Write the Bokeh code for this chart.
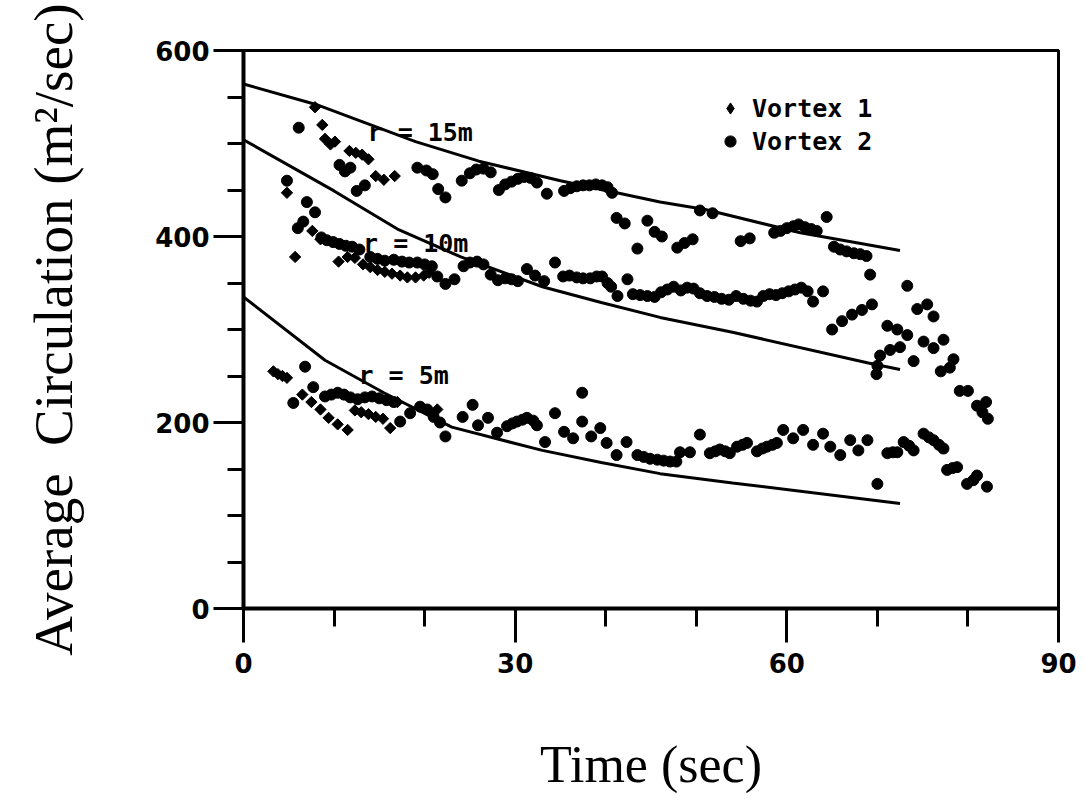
import math
from bokeh.plotting import figure
from bokeh.models import FixedTicker, Legend, LegendItem, Label, ColumnDataSource
from bokeh.embed import file_html
from bokeh.resources import INLINE

# ---------------- model curves (r = 15 m, 10 m, 5 m) ----------------
fit15_t = [0, 8, 19, 26, 35, 46, 51, 61.5, 72.5]
fit15_v = [564, 542, 502, 481, 460, 437, 429, 404, 385]
fit10_t = [0, 10, 17, 24, 33, 39.5, 46, 54, 69, 72.5]
fit10_v = [504, 449, 408, 378, 346, 329, 313, 297, 264, 257]
fit5_t = [0, 9, 15.5, 23, 33, 39.5, 46, 54, 72.5]
fit5_v = [335, 267, 232, 195, 170, 157, 145, 135, 113]

# ---------------- Vortex 1 (diamonds) ----------------
v1_r15_t = [7.9, 8.7, 9.0, 9.6, 10.1, 11.7, 12.4, 13.1, 13.8, 14.6, 15.5, 16.7]
v1_r15_v = [539, 520, 505, 499, 502, 492, 490, 488, 483, 465, 461, 465]
v1_r10_t = [4.8, 5.7, 7.6, 8.5, 10.5, 11.5, 12.3, 13.2, 14.0, 14.8, 15.6, 16.4,
            17.3, 18.1, 19.0, 19.9, 20.5]
v1_r10_v = [447, 378, 406, 397, 373, 378, 377, 370, 367, 364, 362, 360,
            358, 356, 356, 358, 361]
v1_r5_t = [3.3, 3.8, 4.3, 4.8, 6.5, 7.5, 8.5, 9.4, 10.4, 11.5, 12.3, 13.0,
           13.8, 14.6, 15.4, 16.2, 17.0, 21.4]
v1_r5_v = [255, 252, 250, 248, 230, 222, 214, 205, 198, 192, 213, 211,
           209, 206, 204, 194, 222, 214]

# ---------------- Vortex 2 (circles) ----------------
v2_r15_t = [6.1, 10.6, 11.2, 11.8, 12.5, 13.4, 19.2, 20.2, 20.9, 21.5, 22.3,
            24.1, 25.0, 25.7, 26.5, 27.3, 28.2, 28.9, 29.6, 30.3, 31.0, 31.7,
            32.4, 33.5, 35.4, 36.1, 36.8, 37.5, 38.2, 38.9, 39.6, 40.2, 40.7,
            41.2, 42.1, 43.5, 44.6, 45.4, 46.2, 47.9, 48.7, 49.6, 50.4, 51.8,
            54.9, 55.9, 58.6, 59.3, 60.0, 60.7, 61.3, 62.0, 62.7, 63.3, 64.4,
            65.2, 65.9, 66.6, 67.4, 68.1, 68.8, 69.2, 73.3, 74.4, 75.5, 76.2,
            77.3, 78.4, 79.1, 80.0, 81.0, 82.0, 81.6, 82.2]
v2_r15_v = [517, 477, 470, 474, 449, 455, 474, 471, 467, 451, 442,
            460, 468, 472, 473, 469, 450, 456, 459, 462, 464, 463,
            458, 446, 449, 452, 454, 455, 455, 456, 455, 453, 447,
            420, 414, 387, 417, 405, 400, 388, 393, 397, 428, 425,
            395, 398, 404, 406, 409, 411, 413, 410, 408, 406, 421,
            389, 386, 384, 382, 381, 379, 359, 347, 322, 327, 314,
            289, 268, 234, 234, 218, 222, 211, 204]
v2_r10_t = [4.8, 6.0, 6.6, 7.0, 7.9, 8.6, 9.2, 9.9, 10.6, 11.3, 12.0, 12.8,
            14.0, 14.8, 15.6, 16.6, 17.5, 18.3, 19.2, 20.0, 20.8, 21.4, 22.3,
            23.3, 24.3, 25.0, 25.8, 26.5, 27.3, 28.1, 28.9, 29.6, 30.3, 31.3,
            32.2, 33.2, 34.4, 35.3, 36.0, 36.8, 37.5, 38.3, 39.0, 39.6, 40.2,
            40.6, 41.3, 42.4, 43.0, 43.8, 44.6, 45.4, 46.1, 46.8, 47.5, 48.3,
            49.0, 49.7, 50.4, 51.2, 52.0, 52.8, 53.6, 54.4, 55.2, 56.0, 56.7,
            57.4, 58.1, 58.8, 59.5, 60.2, 60.9, 61.6, 62.3, 62.9, 64.0, 65.0,
            66.1, 67.2, 68.3, 69.4, 70.0, 69.9, 70.3, 71.4, 72.5, 71.1, 72.2,
            73.3, 74.0, 75.1, 76.2, 77.0, 78.0]
v2_r10_v = [460, 409, 416, 437, 426, 399, 396, 394, 392, 390, 389, 386,
            378, 376, 374, 375, 373, 372, 372, 370, 368, 357, 349,
            354, 368, 372, 373, 370, 359, 353, 355, 354, 352, 365,
            358, 352, 372, 357, 358, 356, 355, 355, 357, 357, 350,
            346, 336, 354, 338, 337, 336, 335, 340, 343, 346, 342,
            345, 344, 339, 336, 335, 333, 332, 336, 333, 331, 330,
            336, 338, 337, 339, 341, 343, 345, 341, 330, 341, 300,
            309, 316, 321, 327, 261, 252, 272, 278, 281, 304, 300,
            294, 266, 287, 280, 255, 259]
v2_r5_t = [5.5, 6.8, 7.7, 9.0, 9.7, 10.4, 11.1, 11.8, 12.6, 13.4, 14.2, 15.0,
           15.8, 16.6, 17.3, 18.4, 19.5, 20.3, 21.0, 21.7, 22.3, 24.2, 25.3,
           25.9, 27.0, 28.0, 29.1, 29.7, 30.2, 30.8, 31.3, 32.0, 32.4, 33.3,
           34.4, 35.4, 36.4, 37.4, 37.4, 38.4, 39.4, 40.1, 41.2, 42.3, 43.5,
           44.2, 44.9, 45.7, 46.4, 47.1, 47.8, 48.2, 49.3, 50.4, 51.5, 52.1,
           52.6, 53.2, 53.7, 54.5, 55.1, 55.6, 56.7, 57.3, 57.8, 58.4, 58.9,
           59.6, 60.7, 61.8, 62.9, 64.0, 64.8, 65.9, 67.0, 67.9, 68.9, 70.0,
           71.1, 71.7, 72.2, 72.9, 73.5, 74.0, 75.1, 75.7, 76.2, 76.8, 77.3,
           77.7, 78.3, 78.8, 79.9, 80.6, 81.0, 82.1]
v2_r5_v = [221, 260, 238, 228, 230, 232, 230, 227, 225, 227, 228, 226,
           224, 222, 201, 210, 217, 214, 206, 200, 185, 206, 219,
           197, 205, 189, 196, 199, 201, 203, 205, 202, 197, 179,
           210, 190, 183, 232, 201, 185, 194, 178, 165, 179, 165,
           163, 161, 160, 159, 158, 158, 168, 168, 187, 167, 169,
           171, 169, 167, 174, 176, 178, 169, 172, 174, 176, 178,
           192, 183, 192, 176, 188, 174, 165, 181, 170, 181, 134,
           167, 168, 168, 179, 175, 170, 188, 184, 181, 176, 172,
           149, 151, 152, 134, 138, 143, 131]

x_ticks = [0, 30, 60, 90]
x_minor = [10, 20, 40, 50, 70, 80]
y_ticks = [0, 200, 400, 600]
y_minor = [50, 100, 150, 250, 300, 350, 450, 500, 550]

p = figure(width=1084, height=803, x_range=(0, 90), y_range=(0, 600),
           output_backend="svg", toolbar_location=None,
           min_border_left=243, min_border_right=26,
           min_border_top=50, min_border_bottom=195)
p.grid.visible = False
p.background_fill_color = "white"
p.border_fill_color = "white"
p.outline_line_color = "black"
p.outline_line_width = 3

for ax in (p.xaxis[0], p.yaxis[0]):
    ax.axis_line_width = 4
    ax.axis_line_color = "black"
    ax.major_tick_in = 0
    ax.minor_tick_in = 0
    ax.major_tick_line_width = 3
    ax.minor_tick_line_width = 3
    ax.major_tick_line_color = "black"
    ax.minor_tick_line_color = "black"
    ax.major_label_text_font = "DejaVu Sans"
    ax.major_label_text_font_style = "bold"
    ax.major_label_text_font_size = "26px"
    ax.major_label_text_color = "black"
    ax.axis_label_text_font = "Liberation Serif"
    ax.axis_label_text_font_style = "normal"
    ax.axis_label_text_color = "black"

p.xaxis.ticker = FixedTicker(ticks=x_ticks, minor_ticks=x_minor)
p.yaxis.ticker = FixedTicker(ticks=y_ticks, minor_ticks=y_minor)
p.xaxis.major_tick_out = 34
p.xaxis.minor_tick_out = 18
p.yaxis.major_tick_out = 30
p.yaxis.minor_tick_out = 16
p.xaxis.major_label_standoff = 10
p.yaxis.major_label_standoff = 4
p.xaxis.axis_label = "Time (sec)"
p.yaxis.axis_label = "Average\u00a0 Circulation (m\u00b2/sec)"
p.xaxis.axis_label_text_font_size = "52px"
p.yaxis.axis_label_text_font_size = "55px"
p.xaxis.axis_label_standoff = 60
p.yaxis.axis_label_standoff = 68

# model curves
for t, v in ((fit15_t, fit15_v), (fit10_t, fit10_v), (fit5_t, fit5_v)):
    p.line(t, v, line_width=3, line_color="black")

src1 = ColumnDataSource(dict(t=v1_r5_t + v1_r10_t + v1_r15_t,
                             v=v1_r5_v + v1_r10_v + v1_r15_v))
src2 = ColumnDataSource(dict(t=v2_r5_t + v2_r10_t + v2_r15_t,
                             v=v2_r5_v + v2_r10_v + v2_r15_v))
r2 = p.scatter("t", "v", source=src2, marker="circle", size=11,
               fill_color="black", line_color="black")
r1 = p.scatter("t", "v", source=src1, marker="square", size=8,
               angle=math.pi / 4, fill_color="black", line_color="black")
# legend-only glyph (diamond shape) for Vortex 1
r1_leg = p.scatter("t", "v", source=src1, marker="diamond", size=12,
                   fill_color="black", line_color="black", visible=False)

for txt, x, y in (("r = 15m", 13.7, 512), ("r = 10m", 13.2, 392), ("r = 5m", 12.7, 251)):
    p.add_layout(Label(x=x, y=y, text=txt, text_font="DejaVu Sans Mono",
                       text_font_style="bold", text_font_size="25px",
                       text_color="black", text_baseline="alphabetic"))

legend = Legend(items=[LegendItem(label="Vortex 1", renderers=[r1_leg]),
                       LegendItem(label="Vortex 2", renderers=[r2])],
                location=(473, 452), padding=0, margin=0, spacing=3,
                glyph_width=28, glyph_height=30, label_height=30,
                label_standoff=8, border_line_color=None,
                background_fill_alpha=0,
                label_text_font="DejaVu Sans Mono", label_text_font_style="bold",
                label_text_font_size="25px", label_text_color="black")
p.add_layout(legend)

open("out.html", "w").write(file_html(p, INLINE))
